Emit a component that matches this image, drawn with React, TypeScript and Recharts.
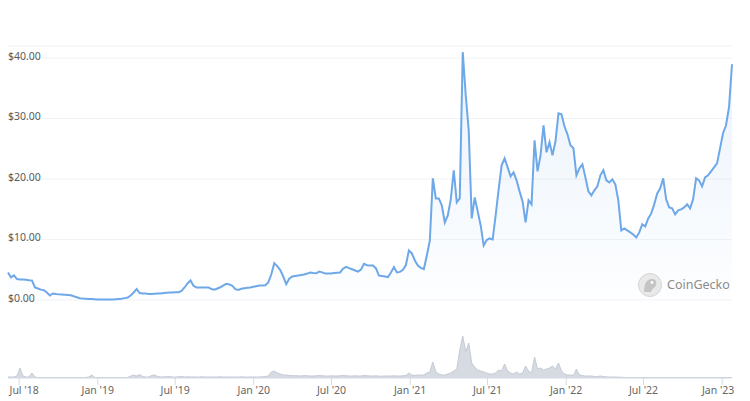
import React from 'react';
import { ComposedChart, Area, XAxis, YAxis, CartesianGrid } from 'recharts';

// weekly samples, first one on 5 Jun 2018
const START = Date.UTC(2018, 5, 5);
const WEEK = 7 * 24 * 3600 * 1000;

const priceWeekly = [
  4.55, 3.73, 4.06, 3.46, 3.39, 3.39, 3.36, 3.26, 3.23, 2.07,
  1.9, 1.71, 1.61, 1.24, 0.75, 1.08, 0.98, 0.93, 0.89, 0.86,
  0.84, 0.78, 0.61, 0.46, 0.3, 0.25, 0.22, 0.18, 0.15, 0.12,
  0.1, 0.08, 0.08, 0.08, 0.08, 0.1, 0.13, 0.17, 0.22, 0.31,
  0.41, 0.75, 1.24, 1.82, 1.16, 1.08, 1.08, 1.01, 1.01, 1.04,
  1.06, 1.08, 1.14, 1.19, 1.24, 1.26, 1.27, 1.29, 1.49, 2.07,
  2.73, 3.23, 2.35, 2.07, 2.07, 2.07, 2.07, 2.07, 1.82, 1.69,
  1.9, 2.1, 2.4, 2.68, 2.57, 2.33, 1.8, 1.67, 1.87, 1.94,
  2.02, 2.07, 2.19, 2.28, 2.38, 2.4, 2.43, 2.9, 4.22, 6.09,
  5.61, 4.95, 3.89, 2.62, 3.53, 3.89, 3.97, 4.06, 4.12, 4.21,
  4.37, 4.55, 4.45, 4.42, 4.69, 4.57, 4.39, 4.39, 4.39, 4.45,
  4.5, 4.55, 5.17, 5.48, 5.28, 5.08, 4.88, 4.69, 5.05, 5.98,
  5.75, 5.71, 5.71, 5.22, 4.04, 3.96, 3.89, 3.79, 4.55, 5.43,
  4.55, 4.65, 4.98, 5.78, 8.2, 7.7, 6.54, 5.71, 5.31, 5.12,
  7.37, 9.85, 20.12, 16.8, 16.8, 15.65, 12.83, 13.99, 16.64, 21.44,
  16.14, 16.8, 40.98, 33.86, 28.06, 13.49, 16.97, 14.65, 12.33, 9.02,
  9.92, 10.18, 10.02, 13.99, 18.29, 22.27, 23.43, 21.94, 20.45, 21.11,
  19.78, 17.96, 16.31, 12.83, 16.47, 15.81, 26.41, 21.27, 23.92, 28.89,
  24.42, 26.08, 23.92, 26.24, 30.88, 30.71, 28.72, 27.4, 25.58, 25.08,
  20.61, 21.77, 22.43, 20.28, 17.96, 17.3, 18.13, 18.79, 20.61, 21.44,
  19.78, 19.45, 19.95, 19.12, 16.47, 11.51, 11.84, 11.51, 11.18, 10.84,
  10.35, 11.18, 12.5, 12.17, 13.49, 14.32, 15.81, 17.63, 18.46, 20.12,
  16.64, 15.31, 15.15, 14.16, 14.82, 14.98, 15.31, 15.81, 15.15, 16.64,
  20.12, 19.78, 18.79, 20.28, 20.61, 21.27, 21.94, 22.6, 25.08, 27.57,
  28.89, 31.87, 38.99,
];

// volume, $M
const volumeWeekly = [
  1, 1, 1, 2, 10, 2, 1, 1, 5, 1,
  0.5, 0.5, 0.5, 0.5, 0.5, 0.5, 0.5, 0.5, 0.5, 0.5,
  0.5, 0.5, 0.5, 0.5, 0.5, 0.5, 0.5, 1, 3, 0.5,
  0.5, 0.5, 0.5, 0.5, 0.5, 0.5, 0.5, 0.5, 0.5, 0.5,
  0.5, 2, 3, 2, 3.5, 1.5, 1, 1, 2.5, 3,
  1.5, 1, 1.2, 1.2, 1.4, 1, 1, 1.2, 1.5, 1,
  1.2, 1, 1.1, 1, 1, 1.2, 1, 1, 1.1, 1,
  1, 1.2, 1, 1, 1.1, 1, 1, 1, 1.2, 1,
  1, 1, 1.1, 1, 1, 1.2, 1.5, 2, 6, 7,
  5, 4, 3, 3, 2.5, 2.5, 2.2, 2.2, 2, 2.5,
  2.2, 2, 2, 2.2, 2.5, 2.2, 2, 2, 2.2, 2,
  2, 2.2, 2.5, 2.2, 2, 2, 2.2, 2, 2, 2.5,
  2.2, 2, 2, 2.2, 1.8, 1.8, 2, 2, 2, 2.2,
  2, 2, 2.2, 2.5, 5, 3, 2.5, 3, 3, 3,
  5, 6, 16, 6, 4, 3, 3, 4, 5, 7,
  9, 28, 42, 26, 35, 15, 11, 8, 7, 6,
  5, 4, 4, 5, 8, 7, 14, 7, 5, 4,
  6, 4, 5, 12, 7, 5, 21, 9, 10, 8,
  9, 10, 12, 9, 15, 7, 4, 3, 3, 2.5,
  9, 3, 2.5, 2, 2, 2, 1.5, 1.5, 2, 1.5,
  1.2, 1, 1, 1, 0.8, 0.8, 0.5, 0.5, 0.5, 0.5,
  0.5, 0.5, 0.5, 0.5, 0.5, 0.5, 0.5, 0.5, 0.5, 0.5,
  0.5, 0.5, 0.5, 0.5, 0.5, 0.5, 0.5, 0.5, 0.5, 0.5,
  0.5, 0.5, 0.5, 0.5, 0.5, 0.5, 0.5, 0.5, 0.5, 0.5,
  0.5, 0.5, 0.5,
];

const tickDates = [
  '2018-07-01', '2019-01-01', '2019-07-01', '2020-01-01', '2020-07-01',
  '2021-01-01', '2021-07-01', '2022-01-01', '2022-07-01', '2023-01-01',
];
const priceTicks = [0, 10, 20, 30, 40];
const MONTHS = ['Jan', 'Feb', 'Mar', 'Apr', 'May', 'Jun', 'Jul', 'Aug', 'Sep', 'Oct', 'Nov', 'Dec'];

const data = priceWeekly.map((price, i) => ({
  t: START + i * WEEK,
  price,
  volume: volumeWeekly[i],
}));
const xTicks = tickDates.map((d) => Date.parse(d + 'T00:00:00Z'));

const fmtDate = (t: number) => {
  const d = new Date(t);
  return `${MONTHS[d.getUTCMonth()]} '${String(d.getUTCFullYear()).slice(2)}`;
};

const FONT = '"Noto Sans", "Open Sans", sans-serif';
const LINE = '#6ea8e8';

const PriceTick = (props: any) => {
  const { x, y, payload } = props;
  return (
    <text x={x} y={y - 2.5} dominantBaseline="central" textAnchor="start" fontSize={10.5} fill="#5a5a5a" fontFamily={FONT}>
      {`$${Number(payload.value).toFixed(2)}`}
    </text>
  );
};

const DateTick = (props: any) => {
  const { x, y, payload, index } = props;
  // edge labels are pushed inside like highcharts does
  const shift = index === 0 ? 5 : index === xTicks.length - 1 ? -4 : 0;
  return (
    <text x={x + shift} y={y} dy="0.71em" textAnchor="middle" fontSize={10.5} fill="#666" fontFamily={FONT}>
      {fmtDate(payload.value)}
    </text>
  );
};

export default function App() {
  return (
    <div style={{ position: 'absolute', left: 0, top: 0, width: 750, height: 401, background: '#fff', fontFamily: FONT }}>
      <div style={{ position: 'absolute', left: 0, top: 0 }}>
        <ComposedChart width={750} height={312} data={data} margin={{ top: 46, right: 18, bottom: 12, left: 8 }}>
          <defs>
            <linearGradient id="priceFill" x1="0" y1="0" x2="0" y2="1">
              <stop offset="0%" stopColor={LINE} stopOpacity={0.24} />
              <stop offset="100%" stopColor={LINE} stopOpacity={0.02} />
            </linearGradient>
          </defs>
          <CartesianGrid vertical={false} stroke="#f1f3f6" />
          <XAxis dataKey="t" type="number" domain={['dataMin', 'dataMax']} hide />
          <YAxis
            domain={[0, 42]}
            ticks={priceTicks}
            interval={0}
            mirror
            axisLine={false}
            tickLine={false}
            tickSize={0}
            tickMargin={0}
            tick={PriceTick}
          />
          <Area
            dataKey="price"
            type="linear"
            stroke={LINE}
            strokeWidth={2}
            fill="url(#priceFill)"
            dot={false}
            activeDot={false}
            isAnimationActive={false}
          />
        </ComposedChart>
      </div>
      <div style={{ position: 'absolute', left: 0, top: 300 }}>
        <ComposedChart width={750} height={101} data={data} margin={{ top: 34, right: 18, bottom: 0, left: 8 }}>
          <XAxis
            dataKey="t"
            type="number"
            domain={['dataMin', 'dataMax']}
            ticks={xTicks}
            interval={0}
            height={23}
            tickSize={7}
            tickMargin={2}
            stroke="#d3dae4"
            tick={DateTick}
          />
          <YAxis domain={[0, 44]} hide />
          <Area
            dataKey="volume"
            type="linear"
            stroke="#c5cbd5"
            strokeWidth={1}
            fill="#d2d6de"
            fillOpacity={0.9}
            dot={false}
            activeDot={false}
            isAnimationActive={false}
          />
        </ComposedChart>
      </div>
      <div style={{ position: 'absolute', left: 638, top: 273, display: 'flex', alignItems: 'center' }}>
        <svg width={24} height={24} viewBox="0 0 24 24">
          <circle cx={12} cy={12} r={11.5} fill="#e9e9e9" stroke="#d4d4d4" />
          <path d="M6 19 C6 12, 8 6, 14 6 C18 6, 19 9, 18 12 C17 15, 14 15, 13 19 Z" fill="#c4c4c4" />
          <circle cx={14} cy={9.5} r={1.4} fill="#fff" />
        </svg>
        <span style={{ marginLeft: 5, fontSize: 12.5, color: '#8c8c8c', lineHeight: '24px' }}>CoinGecko</span>
      </div>
    </div>
  );
}
